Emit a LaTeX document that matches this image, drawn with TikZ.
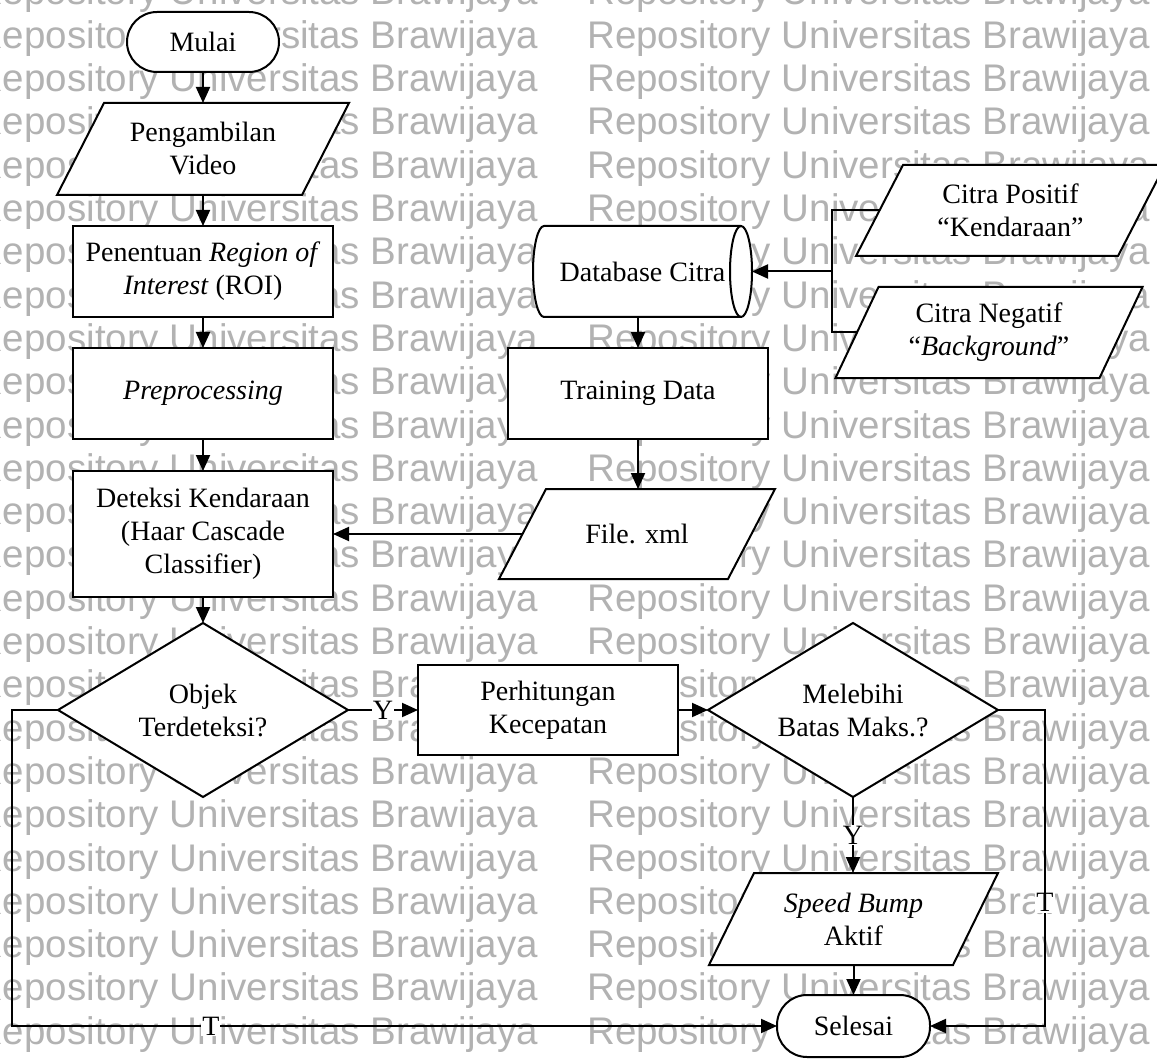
\documentclass[tikz,border=0pt]{standalone}
\usepackage{fontspec}
\setmainfont{Liberation Serif}
\newfontfamily\wmfont{Liberation Sans}
\usetikzlibrary{arrows.meta}

% data (input/output) box: name, cx, cy, side width, height, slant, text
\newcommand\dataio[7]{%
  \draw[shp] ({#2-#4/2+#6/2},{#3-#5/2}) -- ++(#4,0) -- ++({-#6},#5) -- ++({-#4},0) -- cycle;
  \node[txt, minimum width=#4pt, minimum height=#5pt] (#1) at (#2,#3) {#7};
}
% decision diamond: name, cx, cy, text
\newcommand\dmnd[4]{%
  \draw[shp] (#2,{#3-87}) -- ({#2+145},#3) -- (#2,{#3+87}) -- ({#2-145},#3) -- cycle;
  \node[txt, minimum width=290pt, minimum height=174pt] (#1) at (#2,#3) {#4};
}

\begin{document}
\begin{tikzpicture}[x=1pt,y=-1pt,
  txt/.style={font=\fontsize{28}{33}\selectfont, align=center, inner sep=0pt, outer sep=0pt},
  proc/.style={txt, draw, fill=white, line width=2pt, minimum width=260pt, minimum height=91pt},
  term/.style={txt, draw, fill=white, line width=2pt, rounded corners=30pt},
  shp/.style={draw, fill=white, line width=2pt},
  ln/.style={line width=2pt},
  arr/.style={ln, -{Triangle[length=16pt,width=14pt]}},
  lbl/.style={font=\fontsize{28}{33}\selectfont, fill=white, inner sep=1pt},
  wm/.style={anchor=base west, inner sep=0pt, text=black!30, font=\wmfont\fontsize{38.5}{40}\selectfont},
]
\useasboundingbox (0,0) rectangle (1157,1059);
\fill[white] (0,0) rectangle (1157,1059);

% repository watermark
\begin{scope}
  \clip (0,0) rectangle (1157,1059);
  \foreach \k in {0,...,24}{
    \foreach \c in {-25,587}{
      \node[wm] (wm-\k-\c) at (\c,{5+43.3*\k}) {Repository Universitas Brawijaya};
    }
  }
\end{scope}

% main flow
\node[term, minimum width=152pt, minimum height=60pt] (mulai) at (203,42) {Mulai};
\dataio{ambil}{203}{149}{245}{92}{47}{Pengambilan\\Video}
\node[proc] (roi) at (203,271.5) {Penentuan \textit{Region of}\\\textit{Interest} (ROI)};
\node[proc] (pre) at (203,393.5) {\textit{Preprocessing}};
\node[proc, minimum height=126pt] (det) at (203,534) {Deteksi Kendaraan\\(Haar Cascade\\Classifier)};
\dmnd{objek}{203}{710}{Objek\\Terdeteksi?}
\node[proc, minimum height=90pt] (hitung) at (548,710) {Perhitungan\\Kecepatan};
\dmnd{lebih}{853}{710}{Melebihi\\Batas Maks.?}
\dataio{bump}{853.5}{919}{244}{92}{45}{\textit{Speed Bump}\\Aktif}
\node[term, minimum width=153pt, minimum height=62pt] (selesai) at (853.5,1026) {Selesai};

% training branch
\draw[shp] (544,226) -- (741,226)
  .. controls (747.1,226) and (752,246.4) .. (752,271.5)
  .. controls (752,296.6) and (747.1,317) .. (741,317)
  -- (544,317)
  .. controls (537.9,317) and (533,296.6) .. (533,271.5)
  .. controls (533,246.4) and (537.9,226) .. (544,226) -- cycle;
\draw[ln] (741,226) .. controls (734.9,226) and (730,246.4) .. (730,271.5)
  .. controls (730,296.6) and (734.9,317) .. (741,317);
\node[txt, minimum width=219pt, minimum height=91pt] (db) at (642.5,271.5) {Database Citra};
\node[proc] (train) at (638,393.5) {Training Data};
\dataio{xml}{637}{534}{229}{90}{47}{File. xml}
\dataio{pos}{1010.5}{210.5}{262}{91}{47}{Citra Positif\\“Kendaraan”}
\dataio{neg}{989}{332.5}{264}{91}{43}{Citra Negatif\\“\textit{Background}”}

% connectors
\draw[arr] (mulai.south) -- (ambil.north);
\draw[arr] (ambil.south) -- (roi.north);
\draw[arr] (roi.south) -- (pre.north);
\draw[arr] (pre.south) -- (det.north);
\draw[arr] (det.south) -- (objek.north);
\draw[arr] (objek.east) -- node[lbl]{Y} (hitung.west);
\draw[arr] (hitung.east) -- (lebih.west);
\draw[arr] (lebih.south) -- node[lbl]{Y} (lebih.south |- bump.north);
\draw[arr] (bump.south) -- (selesai.north);
\coordinate (rgt) at (1045,710);
\draw[arr] (lebih.east) -- (rgt) -- node[lbl,pos=0.61]{T} (rgt |- selesai.east) -- (selesai.east);
\coordinate (lft) at (12,710);
\draw[arr] (objek.west) -- (lft) -- (lft |- selesai.west) -- node[lbl,pos=0.26]{T} (selesai.west);

\draw[arr] (train.north |- db.south) -- (train.north);
\draw[arr] (train.south) -- (train.south |- xml.north);
\draw[arr] (xml.west) -- (det.east);
\coordinate (jn) at (832,271.5);
\draw[ln] (pos.west) -| (jn) |- (neg.west);
\draw[arr] (jn) -- (db.east);
\end{tikzpicture}
\end{document}
